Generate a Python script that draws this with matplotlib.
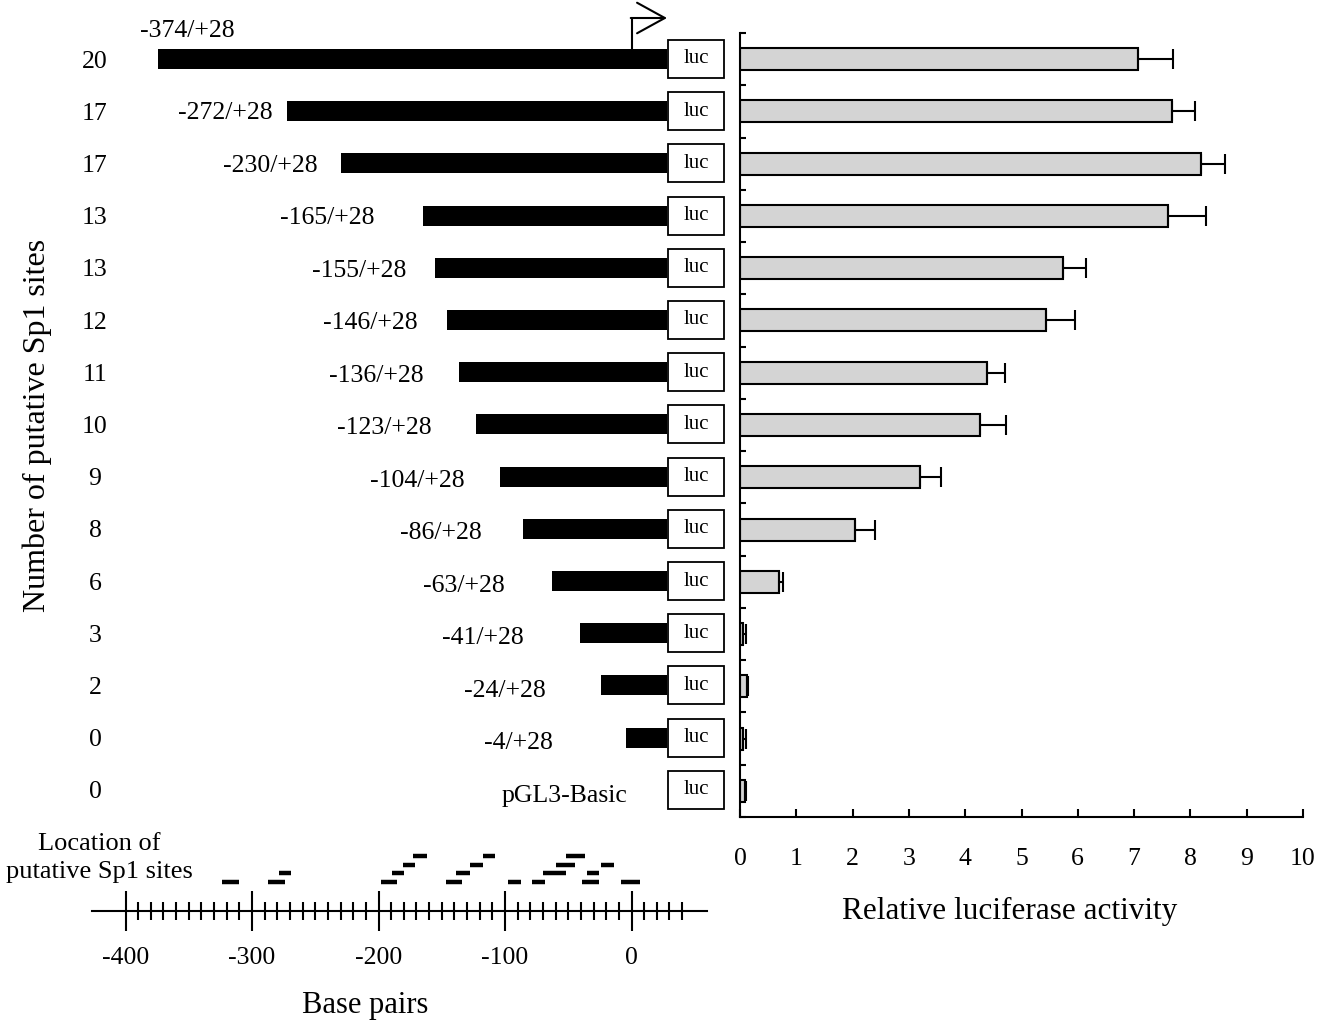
"""
Promoter deletion constructs, putative Sp1 sites and luciferase activity
"""

import numpy as np
import matplotlib
matplotlib.use('Agg')
import matplotlib.pyplot as plt
from matplotlib.ticker import FixedLocator

plt.rcParams['font.family'] = ['Liberation Serif', 'DejaVu Serif']
plt.rcParams['axes.unicode_minus'] = False

# ---- data ----
construct_starts = [-374, -272, -230, -165, -155, -146, -136, -123, -104, -86, -63, -41, -24, -4]
construct_end = 28
sp1_counts = [20, 17, 17, 13, 13, 12, 11, 10, 9, 8, 6, 3, 2, 0, 0]
activity = [7.07, 7.67, 8.18, 7.60, 5.73, 5.43, 4.39, 4.26, 3.20, 2.04, 0.69, 0.06, 0.12, 0.06, 0.09]
activity_err = [0.62, 0.41, 0.44, 0.67, 0.42, 0.52, 0.32, 0.46, 0.37, 0.36, 0.07, 0.05, 0.02, 0.05, 0.02]

# putative Sp1 site locations (bp), stacked on levels so they don't overlap
sp1_start = [-324, -287, -198, -147, -98, -79, -39, -8,
             -279, -189, -139, -70, -35,
             -181, -128, -60, -24,
             -173, -117, -52]
sp1_end = [-310, -274, -185, -134, -87, -68, -26, 7,
           -269, -180, -128, -52, -26,
           -171, -117, -45, -14,
           -162, -108, -37]
sp1_level = [0, 0, 0, 0, 0, 0, 0, 0,
             1, 1, 1, 1, 1,
             2, 2, 2, 2,
             3, 3, 3]

bp_major = [-400, -300, -200, -100, 0]
bp_minor = [t for t in range(-390, 50, 10) if t % 100 != 0]
activity_ticks = list(range(0, 11))

# ---- layout (pixels of the 1342x1022 canvas) ----
W, H = 1342, 1022
ROW0, ROWSTEP = 59, 52.2      # centre of first row, row spacing
BP0, BPSCALE = 631.5, 1.265   # pixel of 0 bp, pixels per bp
LUC_LEFT, LUC_WIDTH = 28.9, 44.2
label_right = [None, -284, -248, -203, -178, -169, -164, -158, -132, -118, -100, -85, -68, -62, -3]


def px_rect(x0, y0, x1, y1):
    return [x0 / W, 1 - y1 / H, (x1 - x0) / W, (y1 - y0) / H]


def bp(px):
    return (px - BP0) / BPSCALE


def row(py):
    return (py - ROW0) / ROWSTEP


fig = plt.figure(figsize=(W / 100, H / 100), dpi=100)

n = len(sp1_counts)
rows = np.arange(n)

# ---- constructs ----
ax_c = fig.add_axes(px_rect(0, 0, 730, 830))
ax_c.set_xlim(bp(0), bp(730))
ax_c.set_ylim(row(830), row(0))
ax_c.axis('off')

starts = np.array(construct_starts)
ax_c.barh(rows[:len(starts)], construct_end - starts, left=starts, height=0.38,
          color='black', edgecolor='none')
ax_c.barh(rows, LUC_WIDTH, left=LUC_LEFT, height=0.73,
          facecolor='white', edgecolor='black', linewidth=1.3)
for i in rows:
    ax_c.text(LUC_LEFT + LUC_WIDTH / 2, i, 'luc', ha='center', va='center', fontsize=15)
    ax_c.text(bp(95), i + 0.05, str(sp1_counts[i]), ha='center', va='center', fontsize=18.5)

labels = [f'{s}/+28' for s in construct_starts] + ['pGL3-Basic']
ax_c.text(bp(140), row(31), labels[0], ha='left', va='center', fontsize=18.5)
for i in range(1, n):
    ax_c.text(label_right[i], i + 0.03 + 0.006 * i, labels[i], ha='right', va='center',
              fontsize=18.5)

# transcription start arrow
ax_c.plot([0, 0], [-0.19, row(18)], color='black', lw=1.5, solid_capstyle='butt')
ax_c.annotate('', xy=(bp(667), row(18)), xytext=(-0.6, row(18)),
              arrowprops=dict(arrowstyle='->,head_length=1.0,head_width=0.55',
                              lw=1.5, color='black', mutation_scale=20,
                              shrinkA=0, shrinkB=0))

fig.text(37 / W, 1 - 425 / H, 'Number of putative Sp1 sites', rotation=90,
         ha='center', va='center', fontsize=23)

# ---- Sp1 site map and base-pair scale ----
ax_bp = fig.add_axes(px_rect(0, 835, 730, 911))
ax_bp.set_xlim(bp(0), bp(730))
ax_bp.set_ylim((882 - 911) / 8.7, (882 - 835) / 8.7)
ax_bp.hlines(sp1_level, sp1_start, sp1_end, color='black', lw=3.2)
for s in ['top', 'right', 'left']:
    ax_bp.spines[s].set_visible(False)
ax_bp.spines['bottom'].set_bounds(bp(92), bp(707))
ax_bp.spines['bottom'].set_linewidth(1.5)
ax_bp.set_yticks([])
ax_bp.set_xticks(bp_major)
ax_bp.xaxis.set_minor_locator(FixedLocator(bp_minor))
ax_bp.tick_params(axis='x', which='major', direction='inout', length=29.5, width=1.5,
                  labelsize=18.5, pad=11)
ax_bp.tick_params(axis='x', which='minor', direction='inout', length=13, width=1.5)
ax_bp.set_xlabel('Base pairs', fontsize=22, labelpad=16)
fig.text(99 / W, 1 - 858 / H, 'Location of\nputative Sp1 sites', ha='center', va='center',
         fontsize=19, linespacing=1.3)

# ---- luciferase activity ----
ax_r = fig.add_axes(px_rect(740, 33, 1303, 817))
ax_r.barh(rows, activity, height=0.42, color='#d4d4d4', edgecolor='black', linewidth=1.5,
          xerr=[np.zeros(n), activity_err],
          error_kw=dict(ecolor='black', elinewidth=1.5, capsize=7, capthick=1.5))
ax_r.set_xlim(0, 10)
ax_r.set_ylim(14.5, -0.5)
ax_r.spines['top'].set_visible(False)
ax_r.spines['right'].set_visible(False)
ax_r.spines['left'].set_linewidth(1.5)
ax_r.spines['bottom'].set_linewidth(1.5)
ax_r.set_xticks(activity_ticks)
ax_r.set_yticks(np.arange(-0.5, n, 1.0))
ax_r.set_yticklabels([])
ax_r.tick_params(axis='x', direction='in', length=6, width=1.5, labelsize=18.5, pad=22)
ax_r.tick_params(axis='y', direction='in', length=4, width=1.5)
ax_r.set_xlabel('Relative luciferase activity', fontsize=22.5, labelpad=20)
ax_r.xaxis.label.set_x((1010 - 740) / (1303 - 740))

fig.savefig('out.png', dpi=100)
